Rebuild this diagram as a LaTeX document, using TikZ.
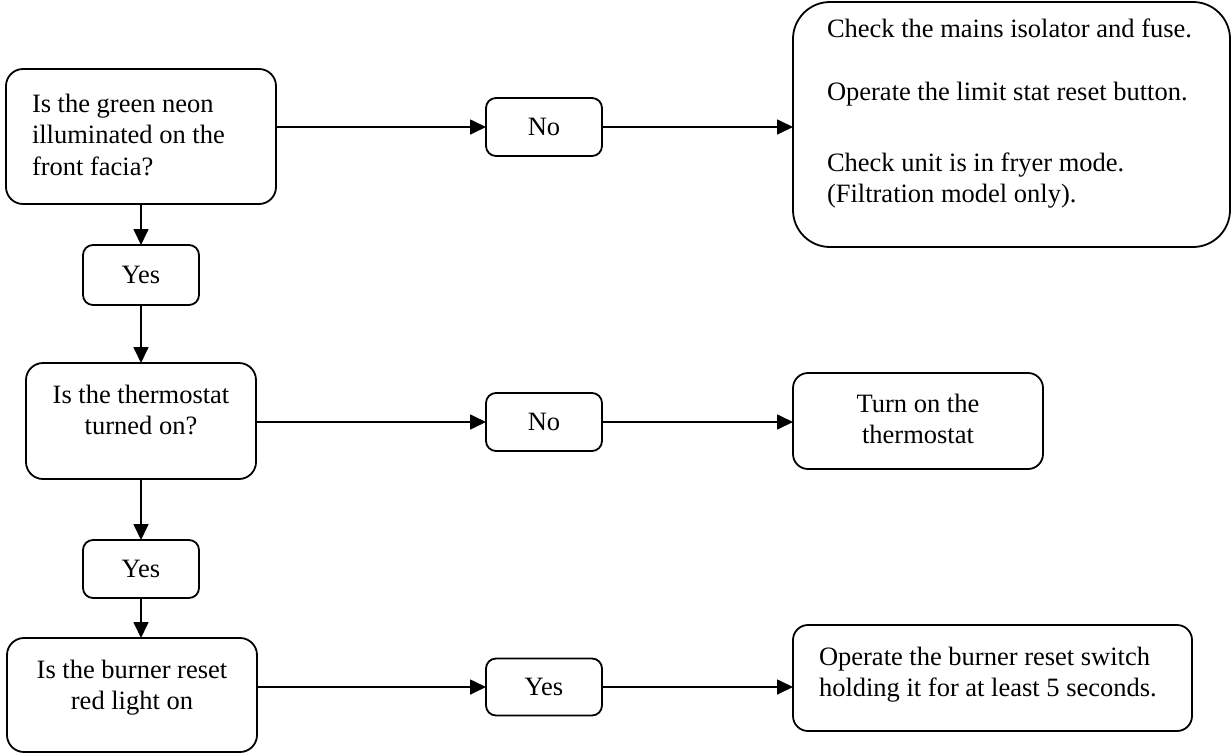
\documentclass[tikz,border=0pt]{standalone}
\usepackage{fontspec}
\setmainfont{Liberation Serif}
\usetikzlibrary{arrows.meta}
\newcommand\diafs{\fontsize{26.5}{31.5}\selectfont}
% left-aligned text block: height, width, top space, left inset, text
\newcommand\ltext[5]{\parbox[c][#1pt][t]{#2pt}{\diafs\raggedright\leftskip=#4pt\vspace*{#3pt}\strut#5\strut}}
% centred text block: height, width, top space, text
\newcommand\ctext[4]{\parbox[c][#1pt][t]{#2pt}{\diafs\centering\vspace*{#3pt}\strut#4\strut}}
\begin{document}
\begin{tikzpicture}[x=1pt,y=-1pt,
  qbox/.style={draw, line width=1.8pt, rounded corners=17pt, inner sep=0pt, outer sep=0pt},
  ansbox/.style={draw, line width=1.8pt, rounded corners=10pt, inner sep=0pt, outer sep=0pt,
    minimum width=116pt, font=\diafs},
  arr/.style={line width=1.7pt, -{Triangle[length=16pt,width=15pt]}}]
\useasboundingbox (0,0) rectangle (1231,753);

% question boxes
\node[qbox] (A) at (141,136.5)
  {\ltext{135}{270}{21}{26}{Is the green neon\\illuminated on the\\front facia?}};
\node[qbox] (B) at (141,421)
  {\ctext{116}{230}{18}{Is the thermostat\\turned on?}};
\node[qbox] (C) at (132,695)
  {\ctext{114}{250}{18}{Is the burner reset\\red light on}};

% answer boxes
\node[ansbox, minimum height=58pt] (No1) at (544,127) {No};
\node[ansbox, minimum height=60pt] (Yes1) at (141,275) {Yes};
\node[ansbox, minimum height=58pt] (No2) at (544,422) {No};
\node[ansbox, minimum height=58pt] (Yes2) at (141,569) {Yes};
\node[ansbox, minimum height=57pt] (Yes3) at (544,687) {Yes};

% action boxes
\node[qbox, rounded corners=37pt] (Big) at (1011.5,124.5)
  {\ltext{245}{437}{13}{34}{Check the mains isolator and fuse.\\[31.5pt]Operate the limit stat reset button.\\[39.5pt]Check unit is in fryer mode.\\(Filtration model only).}};
\node[qbox, rounded corners=15pt] (Turn) at (918,421)
  {\ctext{96}{250}{17}{Turn on the\\thermostat}};
\node[qbox, rounded corners=15pt] (Burn) at (992.5,678)
  {\ltext{106}{399}{18}{26}{Operate the burner reset switch\\holding it for at least 5 seconds.}};

% connectors
\draw[arr] (A.east |- No1.west) -- (No1.west);
\draw[arr] (No1.east) -- (No1.east -| Big.west);
\draw[arr] (A.south) -- (Yes1.north);
\draw[arr] (Yes1.south) -- (B.north);
\draw[arr] (B.east |- No2.west) -- (No2.west);
\draw[arr] (No2.east) -- (No2.east -| Turn.west);
\draw[arr] (B.south) -- (Yes2.north);
\draw[arr] (Yes2.south) -- (Yes2.south |- C.north);
\draw[arr] (C.east |- Yes3.west) -- (Yes3.west);
\draw[arr] (Yes3.east) -- (Yes3.east -| Burn.west);
\end{tikzpicture}
\end{document}
